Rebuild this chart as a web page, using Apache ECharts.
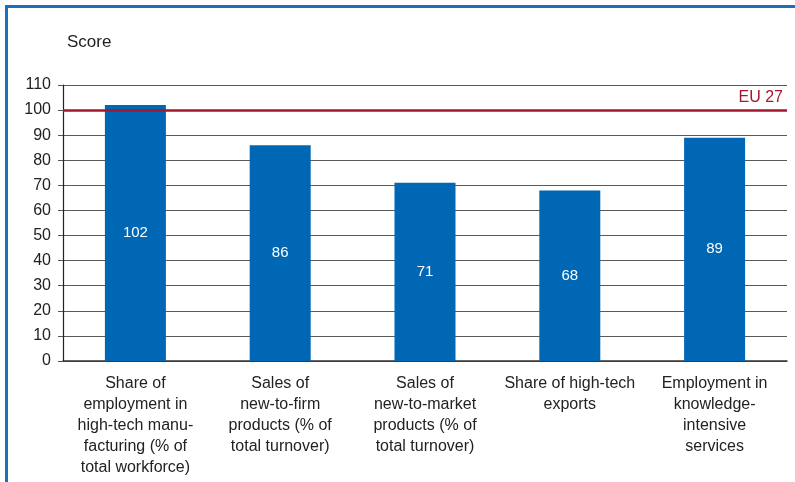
<!DOCTYPE html>
<html>
<head>
<meta charset="utf-8">
<script src="https://cdn.jsdelivr.net/npm/echarts@6/dist/echarts.min.js"></script>
<style>
  html, body { margin: 0; padding: 0; background: #fff; }
  #frame { position: absolute; left: 5px; top: 5px; width: 800px; height: 490px;
           border-left: 3px solid #1a70bd; border-top: 3px solid #1a70bd; box-sizing: border-box; }
  #chart { position: absolute; left: 0; top: 0; width: 795px; height: 482px; }
</style>
</head>
<body>
<div id="frame"></div>
<div id="chart"></div>
<script>
const categories = [
  'Share of\nemployment in\nhigh-tech manu-\nfacturing (% of\ntotal workforce)',
  'Sales of\nnew-to-firm\nproducts (% of\ntotal turnover)',
  'Sales of\nnew-to-market\nproducts (% of\ntotal turnover)',
  'Share of high-tech\nexports',
  'Employment in\nknowledge-\nintensive\nservices'
];
const scores = [102, 86, 71, 68, 89];
const euReference = 100;
const euLabel = 'EU 27';

const chart = echarts.init(document.getElementById('chart'));
chart.setOption({
  animation: false,
  textStyle: { fontFamily: 'Liberation Sans, Arial, sans-serif' },
  title: {
    text: 'Score', left: 62, top: 29,
    textStyle: { fontSize: 17, fontWeight: 'normal', color: '#222' }
  },
  grid: { left: 63, right: 8, top: 85, bottom: 121, containLabel: false },
  xAxis: {
    type: 'category', data: categories,
    axisLine: { lineStyle: { color: '#333', width: 1.5 } },
    axisTick: { show: false },
    axisLabel: { color: '#222', fontSize: 16, lineHeight: 21, margin: 12, interval: 0 }
  },
  yAxis: {
    type: 'value', min: 0, max: 110, interval: 10,
    axisLine: { show: true, lineStyle: { color: '#222', width: 1.2 } },
    axisTick: { show: true, length: 5, lineStyle: { color: '#555' } },
    axisLabel: { color: '#222', fontSize: 16, margin: 12 },
    splitLine: { lineStyle: { color: '#5a5a5a', width: 1 } }
  },
  series: [{
    type: 'bar', data: scores, barWidth: 61,
    itemStyle: { color: '#0067b4' },
    label: { show: true, position: 'inside', color: '#fff', fontSize: 15 },
    markLine: {
      silent: true, symbol: 'none',
      lineStyle: { color: '#a3182c', width: 2.5, type: 'solid' },
      label: {
        show: true, position: 'insideEndTop', formatter: euLabel,
        color: '#a3182c', fontSize: 16, distance: [4, 4]
      },
      data: [{ yAxis: euReference }]
    }
  }]
});
</script>
</body>
</html>
